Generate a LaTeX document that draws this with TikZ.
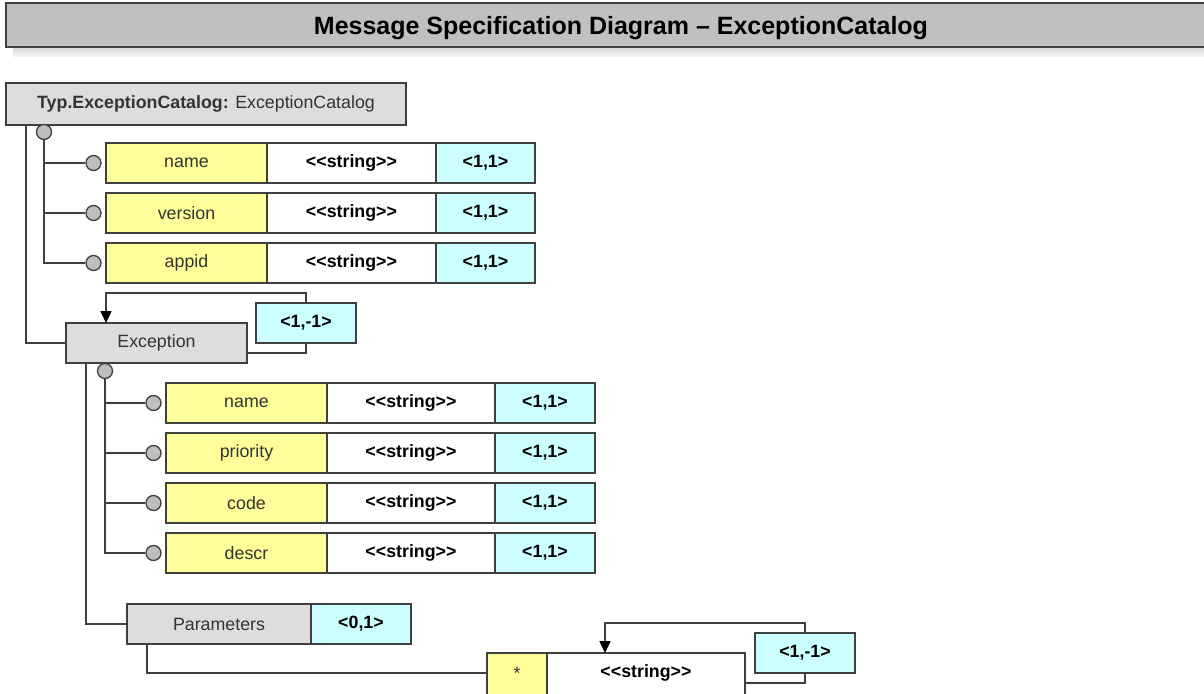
\documentclass[tikz,border=0pt]{standalone}
\usepackage{fontspec}
\setmainfont{Liberation Sans}[Ligatures=TeXOff]
\usetikzlibrary{arrows.meta}

\definecolor{barC}{HTML}{C0C0C0}
\definecolor{shadeTop}{HTML}{D8D8D8}
\definecolor{shadeBot}{HTML}{F6F6F6}
\definecolor{headC}{HTML}{DDDDDD}
\definecolor{nameC}{HTML}{FFFF99}
\definecolor{cardC}{HTML}{CCFFFF}
\definecolor{lineC}{HTML}{404040}
\definecolor{dotC}{HTML}{BEBEBE}
\definecolor{txtC}{HTML}{333333}

\newcommand\rowfont{\fontsize{17.8}{21}\selectfont}
\newcommand\titlefont{\fontsize{25}{30}\selectfont\bfseries}

\tikzset{
  cell/.style={draw=lineC, line width=1.6pt, inner sep=0pt, outer sep=0pt,
    anchor=north west, minimum height=40pt, font=\rowfont},
  namecell/.style={cell, fill=nameC, text=txtC},
  typecell/.style={cell, fill=white, font=\rowfont\bfseries},
  cardcell/.style={cell, fill=cardC, font=\rowfont\bfseries},
  headcell/.style={cell, fill=headC, text=txtC},
  conn/.style={draw=lineC, line width=1.6pt},
  knob/.style={circle, draw=lineC, line width=1.3pt, fill=dotC,
    minimum size=15pt, inner sep=0pt},
  selfloop/.style={conn, -{Triangle[length=12pt,width=11pt,fill=black,color=black]}},
}

% one attribute row: #1 id, #2 top, #3 left, #4 first divider,
% #5 second divider, #6 right edge, #7 field name
\newcommand\attrow[7]{%
  \node[namecell, minimum width=#4-#3] (#1) at (#3,#2) {#7};
  \node[typecell, minimum width=#5-#4] (#1t) at (#4,#2) {<<string>>};
  \node[cardcell, minimum width=#6-#5] (#1c) at (#5,#2) {<1,1>};
  \node[knob] (#1k) at (#3-12.5,#2+20) {};
}

\begin{document}
\begin{tikzpicture}[x=1pt,y=-1pt]
\useasboundingbox (0,0) rectangle (1204,693);
\fill[white] (0,0) rectangle (1204,693);

% heading bar with its shadow
\shade[top color=shadeTop, bottom color=shadeBot] (13,47) rectangle (1215,57);
\filldraw[fill=barC, draw=lineC, line width=2pt] (6,3) rectangle (1215,47);
\node[font=\titlefont] (title) at (621,28) {Message Specification Diagram – ExceptionCatalog};

% root element
\node[headcell, minimum width=400, minimum height=42] (typ) at (6,83)
  {\textbf{Typ.ExceptionCatalog:} ExceptionCatalog};
\node[knob] (tk) at (44,132) {};

\attrow{a1}{143}{106}{267}{436}{535}{name}
\attrow{a2}{193}{106}{267}{436}{535}{version}
\attrow{a3}{243}{106}{267}{436}{535}{appid}

\draw[conn] (tk.south) |- (a3k.west);
\draw[conn] (tk.south |- a1k) -- (a1k.west);
\draw[conn] (tk.south |- a2k) -- (a2k.west);

% Exception element, repeated
\node[headcell, minimum width=181] (exc) at (66,323) {Exception};
\draw[conn] ([xshift=20pt]typ.south west) |- (exc.west);
\coordinate (eloop) at (306,293);
\draw[selfloop] ([yshift=-10pt]exc.east) -| (eloop) -| ([xshift=40pt]exc.north west);
\node[cardcell, minimum width=100] (em) at (256,303) {<1,-1>};
\node[knob] (ek) at (105,371) {};

\attrow{b1}{383}{166}{327}{495}{595}{name}
\attrow{b2}{433}{166}{327}{495}{595}{priority}
\attrow{b3}{483}{166}{327}{495}{595}{code}
\attrow{b4}{533}{166}{327}{495}{595}{descr}

\draw[conn] (ek.south) |- (b4k.west);
\draw[conn] (ek.south |- b1k) -- (b1k.west);
\draw[conn] (ek.south |- b2k) -- (b2k.west);
\draw[conn] (ek.south |- b3k) -- (b3k.west);

% Parameters element
\node[headcell, minimum width=184] (par) at (127,604) {Parameters};
\node[cardcell, minimum width=100] (pc) at (311,604) {<0,1>};
\draw[conn] ([xshift=20pt]exc.south west) |- (par.west);

% wildcard string entries, running past the lower edge
\filldraw[fill=nameC, draw=lineC, line width=1.6pt] (487,653) rectangle (547,720);
\filldraw[fill=white, draw=lineC, line width=1.6pt] (547,653) rectangle (745,720);
\node[anchor=north west, minimum width=60, minimum height=40, inner sep=0pt,
  outer sep=0pt, font=\rowfont, text=txtC] (star) at (487,653) {*};
\node[anchor=north west, minimum width=198, minimum height=40, inner sep=0pt,
  outer sep=0pt, font=\rowfont\bfseries] (starT) at (547,653) {<<string>>};
\draw[conn] ([xshift=20pt]par.south west) |- (star.west);
\coordinate (sloop) at (805,623);
\draw[selfloop] ([yshift=-10pt]starT.east) -| (sloop) -| ([xshift=58pt]starT.north west);
\node[cardcell, minimum width=100] (sc) at (755,633) {<1,-1>};
\end{tikzpicture}
\end{document}
